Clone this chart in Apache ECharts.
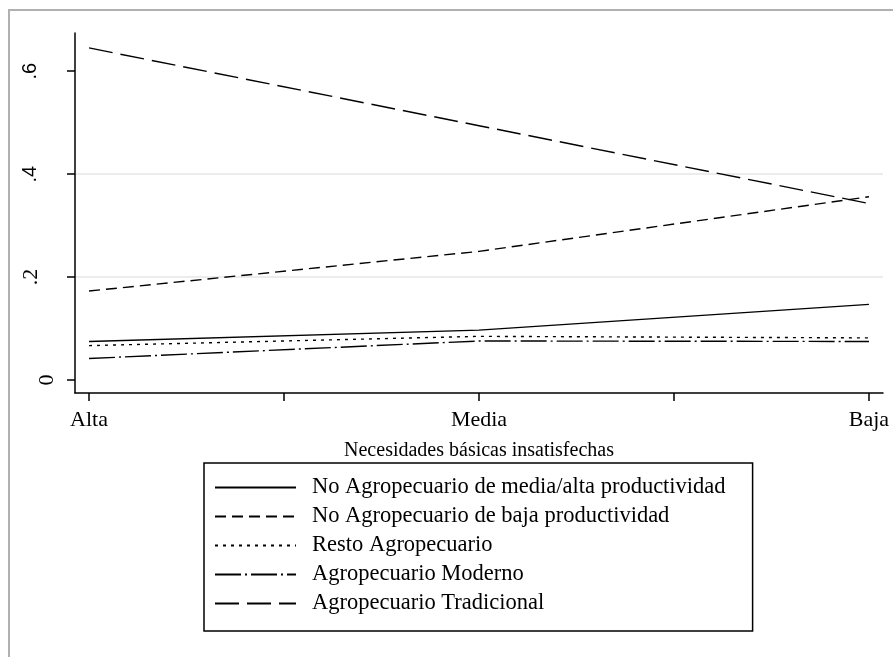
<!DOCTYPE html>
<html>
<head>
<meta charset="utf-8">
<script src="https://cdn.jsdelivr.net/npm/echarts@6/dist/echarts.min.js"></script>
<style>
  html, body { margin: 0; padding: 0; background: #ffffff; }
  #chart { width: 893px; height: 657px; }
</style>
</head>
<body>
<div id="chart"></div>
<script>
// Categories on the horizontal axis (NBI level)
var categories = ['Alta', 'Media', 'Baja'];

// Share of each occupational group by NBI level
var noAgroMediaAlta = [0.075, 0.097, 0.147];
var noAgroBaja      = [0.173, 0.250, 0.356];
var restoAgro       = [0.067, 0.085, 0.082];
var agroModerno     = [0.042, 0.076, 0.075];
var agroTradicional = [0.645, 0.494, 0.343];

var seriesNames = [
  'No Agropecuario de media/alta productividad',
  'No Agropecuario de baja productividad',
  'Resto Agropecuario',
  'Agropecuario Moderno',
  'Agropecuario Tradicional'
];

// Tick values / labels
var xTickValues = [1, 1.5, 2, 2.5, 3];
var xLabelValues = [1, 2, 3];
var yTickValues = [0, 0.2, 0.4, 0.6];
var yTickLabels = ['0', '.2', '.4', '.6'];

var seriesValues = [noAgroMediaAlta, noAgroBaja, restoAgro, agroModerno, agroTradicional];
var dashStyles = [
  'solid',
  [11, 6],
  [3, 5],
  [26, 4, 2, 4],
  [24, 8]
];

function toPoints(values) {
  return values.map(function (v, i) { return [i + 1, v]; });
}

var serif = 'Liberation Serif, Times New Roman, serif';
var sans = 'Liberation Sans, Arial, sans-serif';

var series = seriesNames.map(function (name, k) {
  return {
    name: name,
    type: 'line',
    data: toPoints(seriesValues[k]),
    symbol: 'none',
    lineStyle: { color: '#000000', width: 1.4, type: dashStyles[k] },
    itemStyle: { color: '#000000' },
    emphasis: { disabled: true }
  };
});

var chart = echarts.init(document.getElementById('chart'), null, { renderer: 'canvas' });

chart.setOption({
  animation: false,
  backgroundColor: '#ffffff',
  graphic: [{
    type: 'rect',
    shape: { x: 9, y: 10, width: 1000, height: 1000 },
    style: { fill: 'none', stroke: '#b0b0b0', lineWidth: 2 },
    silent: true,
    z: -10
  }],
  grid: { left: 75, right: 10, top: 33, bottom: 264, containLabel: false },
  xAxis: {
    type: 'value',
    min: 0.964,
    max: 3.036,
    splitNumber: 4,
    name: 'Necesidades básicas insatisfechas',
    nameLocation: 'middle',
    nameGap: 48,
    nameTextStyle: { fontFamily: serif, fontSize: 20, color: '#000000' },
    axisLine: { show: true, onZero: false, lineStyle: { color: '#000000', width: 1.5 } },
    axisTick: { show: true, length: 8, customValues: xTickValues, lineStyle: { color: '#000000', width: 1.5 } },
    axisLabel: {
      customValues: xLabelValues,
      margin: 16,
      fontFamily: serif,
      fontSize: 22,
      color: '#000000',
      formatter: function (v) { return categories[Math.round(v) - 1] || ''; }
    },
    splitLine: { show: false }
  },
  yAxis: {
    type: 'value',
    min: -0.025,
    max: 0.674,
    splitNumber: 3,
    axisLine: { show: true, onZero: false, lineStyle: { color: '#000000', width: 1.5 } },
    axisTick: { show: true, length: 8, customValues: yTickValues, lineStyle: { color: '#000000', width: 1.5 } },
    axisLabel: {
      customValues: yTickValues,
      rotate: 90,
      margin: 17,
      color: '#000000',
      formatter: function (v) {
        var idx = -1;
        for (var i = 0; i < yTickValues.length; i++) {
          if (Math.abs(yTickValues[i] - v) < 1e-6) idx = i;
        }
        if (idx < 0) return '';
        var txt = yTickLabels[idx];
        if (idx === 0) return '{zero|' + txt + '}';
        if (idx === 1) return '{low|' + txt + '}';
        return '{high|' + txt + '}';
      },
      rich: {
        zero: { fontFamily: serif, fontSize: 22, color: '#000000' },
        low: { fontFamily: serif, fontSize: 22, color: '#000000', padding: [0, 0, 16, 0] },
        high: { fontFamily: sans, fontSize: 20, color: '#000000', padding: [0, 0, 18, 0] }
      }
    },
    splitLine: { show: true, showMinLine: false, showMaxLine: false, lineStyle: { color: '#e6e6e6', width: 1.5 } }
  },
  legend: {
    show: true,
    orient: 'vertical',
    left: 204,
    top: 463,
    padding: [13, 27, 16, 10],
    itemWidth: 81,
    itemHeight: 14,
    itemGap: 6,
    borderColor: '#000000',
    borderWidth: 1.5,
    borderRadius: 0,
    backgroundColor: '#ffffff',
    selectedMode: false,
    itemStyle: { opacity: 0 },
    lineStyle: { color: '#000000' },
    textStyle: { fontFamily: serif, fontSize: 22.5, lineHeight: 22, color: '#000000', padding: [0, 0, 0, 11] },
    data: seriesNames
  },
  series: series
});
</script>
</body>
</html>
